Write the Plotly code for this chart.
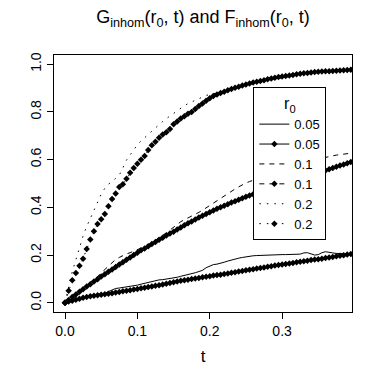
import plotly.graph_objects as go

# t grid (x values)
t = [0.000, 0.005, 0.010, 0.015, 0.020, 0.025, 0.030, 0.035, 0.040, 0.045,
     0.050, 0.055, 0.060, 0.065, 0.070, 0.075, 0.080, 0.085, 0.090, 0.095,
     0.100, 0.105, 0.110, 0.115, 0.120, 0.125, 0.130, 0.135, 0.140, 0.145,
     0.150, 0.155, 0.160, 0.165, 0.170, 0.175, 0.180, 0.185, 0.190, 0.195,
     0.200, 0.205, 0.210, 0.215, 0.220, 0.225, 0.230, 0.235, 0.240, 0.245,
     0.250, 0.255, 0.260, 0.265, 0.270, 0.275, 0.280, 0.285, 0.290, 0.295,
     0.300, 0.305, 0.310, 0.315, 0.320, 0.325, 0.330, 0.335, 0.340, 0.345,
     0.350, 0.355, 0.360, 0.365, 0.370, 0.375, 0.380, 0.385, 0.390, 0.395]

# G_inhom, r0 = 0.05 (solid)
G_005 = [0, 0.005, 0.009, 0.013, 0.017, 0.021, 0.024, 0.027, 0.030, 0.033,
         0.036, 0.040, 0.047, 0.055, 0.060, 0.062, 0.064, 0.066, 0.068, 0.071,
         0.074, 0.078, 0.082, 0.086, 0.090, 0.094, 0.096, 0.097, 0.099, 0.100,
         0.102, 0.107, 0.111, 0.114, 0.117, 0.121, 0.126, 0.131, 0.136, 0.147,
         0.155, 0.160, 0.162, 0.165, 0.170, 0.175, 0.180, 0.184, 0.187, 0.190,
         0.193, 0.195, 0.197, 0.198, 0.199, 0.200, 0.200, 0.200, 0.201, 0.201,
         0.202, 0.202, 0.203, 0.203, 0.204, 0.204, 0.209, 0.210, 0.205, 0.200,
         0.202, 0.210, 0.214, 0.213, 0.209, 0.207, 0.207, 0.206, 0.205, 0.204]

# F_inhom, r0 = 0.05 (solid + markers)
F_005 = [0, 0.005, 0.009, 0.013, 0.017, 0.021, 0.024, 0.027, 0.029, 0.032,
         0.034, 0.036, 0.038, 0.040, 0.043, 0.045, 0.048, 0.050, 0.053, 0.056,
         0.058, 0.061, 0.063, 0.066, 0.068, 0.071, 0.074, 0.077, 0.080, 0.083,
         0.086, 0.089, 0.092, 0.095, 0.097, 0.100, 0.102, 0.104, 0.107, 0.109,
         0.111, 0.114, 0.116, 0.118, 0.121, 0.123, 0.126, 0.128, 0.131, 0.133,
         0.136, 0.139, 0.141, 0.144, 0.146, 0.148, 0.151, 0.153, 0.156, 0.158,
         0.161, 0.163, 0.165, 0.167, 0.170, 0.172, 0.174, 0.176, 0.179, 0.181,
         0.183, 0.185, 0.188, 0.190, 0.192, 0.195, 0.197, 0.199, 0.202, 0.204]

# G_inhom, r0 = 0.1 (dashed)
G_01 = [0, 0.012, 0.024, 0.036, 0.048, 0.060, 0.072, 0.085, 0.098, 0.110,
        0.125, 0.140, 0.155, 0.170, 0.182, 0.190, 0.198, 0.205, 0.210, 0.216,
        0.222, 0.230, 0.236, 0.242, 0.250, 0.262, 0.273, 0.283, 0.293, 0.305,
        0.318, 0.330, 0.340, 0.348, 0.355, 0.362, 0.370, 0.379, 0.388, 0.398,
        0.410, 0.420, 0.430, 0.440, 0.450, 0.460, 0.468, 0.477, 0.486, 0.495,
        0.502, 0.508, 0.514, 0.520, 0.526, 0.532, 0.538, 0.543, 0.548, 0.553,
        0.558, 0.563, 0.568, 0.573, 0.578, 0.582, 0.587, 0.591, 0.595, 0.599,
        0.603, 0.607, 0.610, 0.613, 0.616, 0.619, 0.621, 0.623, 0.625, 0.627]

# F_inhom, r0 = 0.1 (dashed + markers)
F_01 = [0, 0.012, 0.024, 0.035, 0.046, 0.057, 0.068, 0.078, 0.089, 0.099,
        0.110, 0.120, 0.130, 0.140, 0.150, 0.160, 0.170, 0.180, 0.190, 0.200,
        0.210, 0.220, 0.228, 0.237, 0.246, 0.255, 0.264, 0.273, 0.282, 0.290,
        0.298, 0.307, 0.316, 0.325, 0.333, 0.341, 0.349, 0.357, 0.365, 0.372,
        0.380, 0.387, 0.394, 0.400, 0.407, 0.413, 0.420, 0.426, 0.432, 0.438,
        0.444, 0.450, 0.455, 0.460, 0.465, 0.470, 0.475, 0.480, 0.485, 0.490,
        0.495, 0.500, 0.505, 0.510, 0.515, 0.520, 0.525, 0.530, 0.535, 0.540,
        0.545, 0.550, 0.555, 0.560, 0.565, 0.570, 0.575, 0.580, 0.585, 0.590]

# G_inhom, r0 = 0.2 (dotted)
G_02 = [0, 0.070, 0.130, 0.180, 0.232, 0.280, 0.320, 0.355, 0.390, 0.425,
        0.455, 0.480, 0.497, 0.508, 0.520, 0.535, 0.565, 0.598, 0.620, 0.642,
        0.662, 0.678, 0.692, 0.705, 0.720, 0.735, 0.750, 0.760, 0.772, 0.783,
        0.795, 0.805, 0.815, 0.826, 0.835, 0.842, 0.850, 0.858, 0.864, 0.869,
        0.873, 0.876, 0.879, 0.882, 0.884, 0.888, 0.892, 0.897, 0.902, 0.907,
        0.911, 0.915, 0.919, 0.923, 0.926, 0.929, 0.933, 0.936, 0.939, 0.942,
        0.945, 0.947, 0.949, 0.951, 0.954, 0.956, 0.958, 0.959, 0.961, 0.963,
        0.964, 0.965, 0.966, 0.967, 0.968, 0.969, 0.970, 0.971, 0.972, 0.973]

# F_inhom, r0 = 0.2 (dotted + markers)
F_02 = [0, 0.050, 0.095, 0.125, 0.155, 0.185, 0.225, 0.265, 0.300, 0.330,
        0.350, 0.372, 0.405, 0.435, 0.458, 0.485, 0.497, 0.520, 0.545, 0.565,
        0.583, 0.600, 0.615, 0.640, 0.660, 0.675, 0.692, 0.705, 0.715, 0.728,
        0.748, 0.760, 0.772, 0.782, 0.792, 0.800, 0.812, 0.825, 0.835, 0.847,
        0.857, 0.867, 0.873, 0.879, 0.885, 0.891, 0.896, 0.901, 0.906, 0.911,
        0.915, 0.919, 0.923, 0.927, 0.930, 0.933, 0.937, 0.940, 0.943, 0.946,
        0.949, 0.951, 0.953, 0.955, 0.958, 0.960, 0.962, 0.963, 0.965, 0.967,
        0.968, 0.969, 0.970, 0.971, 0.972, 0.973, 0.974, 0.975, 0.976, 0.977]

legend_labels = ["0.05", "0.05", "0.1", "0.1", "0.2", "0.2"]
x_ticks = [0.0, 0.1, 0.2, 0.3]
x_ticktext = ["0.0", "0.1", "0.2", "0.3"]
y_ticks = [0.0, 0.2, 0.4, 0.6, 0.8, 1.0]
y_ticktext = ["0.0", "0.2", "0.4", "0.6", "0.8", "1.0"]

FONT = "Liberation Sans, Arial, Helvetica, sans-serif"
DASH = "5px,5px"
DOT = "1.5px,6px"

series = [
    (G_005, legend_labels[0], "solid", False),
    (F_005, legend_labels[1], "solid", True),
    (G_01, legend_labels[2], DASH, False),
    (F_01, legend_labels[3], DASH, True),
    (G_02, legend_labels[4], DOT, False),
    (F_02, legend_labels[5], DOT, True),
]

fig = go.Figure()
for ys, name, dash, mk in series:
    fig.add_trace(go.Scatter(
        x=t, y=ys, name=name,
        mode="lines+markers" if mk else "lines",
        line=dict(color="black", width=1, dash=dash),
        marker=dict(symbol="diamond", size=5, color="black") if mk else None,
        cliponaxis=True,
    ))

# page body has an 8px margin: figure is 372x372 placed at (8, 8)
fig.update_layout(
    width=372, height=372, autosize=False,
    margin=dict(l=46, r=28, t=47, b=68, pad=0),
    paper_bgcolor="white", plot_bgcolor="white",
    font=dict(family=FONT, color="black", size=14),
    title=dict(
        text="G<sub>inhom</sub>(r<sub>0</sub>, t) and F<sub>inhom</sub>(r<sub>0</sub>, t)",
        x=0.5, xref="paper", xanchor="center",
        y=1 - 9 / 372, yref="container", yanchor="middle",
        font=dict(family=FONT, size=18, color="black"),
    ),
    showlegend=True,
    legend=dict(
        x=0.669, y=0.874, xanchor="left", yanchor="top",
        bgcolor="white", bordercolor="black", borderwidth=1,
        font=dict(family=FONT, size=13, color="black"),
        title=dict(text="r<sub>0</sub>", side="top center",
                   font=dict(family=FONT, size=16, color="black")),
        tracegroupgap=0,
        entrywidth=48, entrywidthmode="pixels",
    ),
    xaxis=dict(
        range=[-0.0152, 0.3966], tickmode="array", automargin=False,
        tickvals=x_ticks, ticktext=x_ticktext,
        ticks="outside", ticklen=6, tickwidth=1, tickcolor="black",
        showline=True, linecolor="black", linewidth=1, mirror=True,
        showgrid=False, zeroline=False,
        tickfont=dict(family=FONT, size=14, color="black"),
        title=dict(text="t", font=dict(family=FONT, size=17, color="black"), standoff=12),
    ),
    yaxis=dict(
        range=[-0.0386, 1.0386], tickmode="array", automargin=False,
        tickvals=y_ticks, ticktext=y_ticktext, tickangle=-90,
        ticks="outside", ticklen=6, tickwidth=1, tickcolor="black",
        showline=True, linecolor="black", linewidth=1, mirror=True,
        showgrid=False, zeroline=False,
        tickfont=dict(family=FONT, size=14, color="black"),
    ),
)

fig.write_html("out.html")
